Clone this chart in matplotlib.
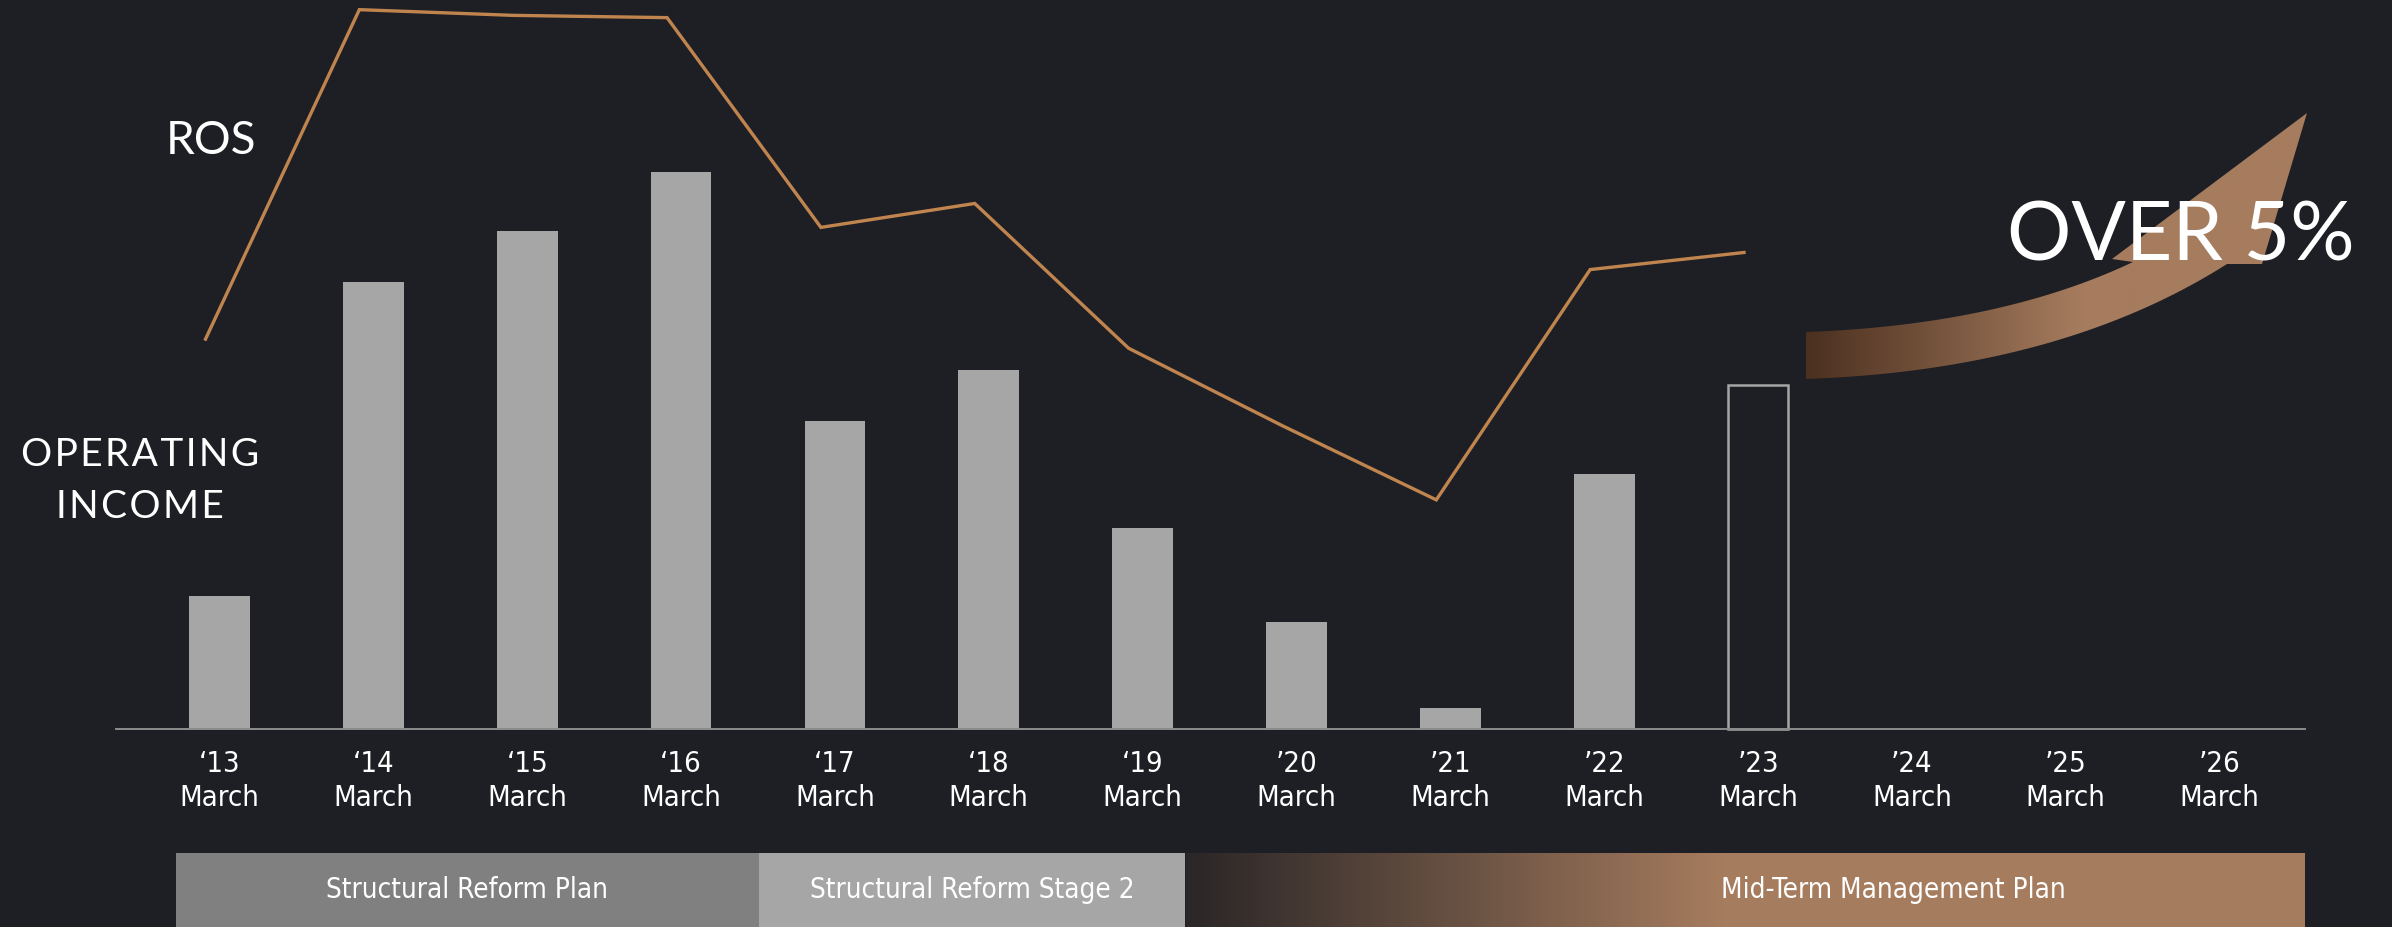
import numpy as np
import matplotlib
matplotlib.use("Agg")
import matplotlib.pyplot as plt
from matplotlib.path import Path
from matplotlib.patches import PathPatch, Rectangle
from matplotlib.colors import LinearSegmentedColormap

# fiscal years (ending March)
years = ["\u201813", "\u201814", "\u201815", "\u201816", "\u201817", "\u201818", "\u201819",
         "\u201920", "\u201921", "\u201922", "\u201923", "\u201924", "\u201925", "\u201926"]
# operating income (relative units), '13 - '22 actual, '23 plan (outlined)
income = [29.6, 99.3, 110.7, 123.8, 68.4, 79.8, 44.7, 23.8, 4.7, 56.7]
income_plan = [76.4]
# ROS (%), '13 - '23
ros = [3.42, 6.31, 6.26, 6.24, 4.40, 4.61, 3.34, 2.66, 2.01, 4.03, 4.18]
phases = ["Structural Reform Plan", "Structural Reform Stage 2", "Mid-Term Management Plan"]

W, H = 2392, 927
BG = "#1e1f24"
BAR = "#a6a6a6"
LINE = "#c0854f"
TAN = "#a67c5e"

fig = plt.figure(figsize=(W / 100, H / 100), dpi=100, facecolor=BG)

# main axes: bars
ax = fig.add_axes([0, 0, 1, 1])
ax.set_axis_off()
x = np.arange(len(years))
ax.bar(x[:len(income)], income, width=0.395, color=BAR, zorder=2)
ax.bar(x[len(income):len(income) + len(income_plan)], income_plan, width=0.39,
       fill=False, edgecolor=BAR, linewidth=1.8, zorder=2)
ax.axhline(0, xmin=116 / W, xmax=2305 / W, color="#8c8c8c", linewidth=1.4, zorder=3)
ax.set_xlim(-219.5 / 153.85, (W - 219.5) / 153.85)
ax.set_ylim((729 - H) / 4.5, 729 / 4.5)

for i, yr in enumerate(years):
    ax.text(i, -11.6, yr + "\nMarch", ha="center", va="center", color="white",
            fontsize=21, fontstretch="condensed", linespacing=1.25,
            family=["DejaVu Sans"])

# ROS line on a twin axis
ax2 = ax.twinx()
ax2.set_axis_off()
ax2.plot(x[:len(ros)] - 0.091, ros, color=LINE, linewidth=2.4, solid_joinstyle="miter")
ax2.set_ylim(-198 / 114, 729 / 114)

# overlay in pixel space for decorations
ov = fig.add_axes([0, 0, 1, 1])
ov.set_axis_off()

def tracked(s):
    return "\u200a".join(s)

ov.text(211, 141, "ROS", fontsize=33, color="white", ha="center", va="center",
        family=["Lato", "DejaVu Sans"])
ov.text(140, 455, tracked("OPERATING"), fontsize=28, color="white", ha="center",
        va="center", family=["Lato", "DejaVu Sans"])
ov.text(140, 507, tracked("INCOME"), fontsize=28, color="white", ha="center",
        va="center", family=["Lato", "DejaVu Sans"])

# curved arrow with gradient
def qbez(p0, p1, p2, n=60):
    t = np.linspace(0, 1, n)[:, None]
    p0, p1, p2 = map(np.array, (p0, p1, p2))
    return (1 - t) ** 2 * p0 + 2 * (1 - t) * t * p1 + t ** 2 * p2

upper = qbez((1806, 332), (2000, 325), (2133, 262))
lower = qbez((2227, 264), (2060, 370), (1806, 379))
head = np.array([(2112, 259), (2307, 113), (2262, 264)])
verts = np.vstack([upper, head, lower, upper[:1]])
arrow_patch = PathPatch(Path(verts), facecolor="none", edgecolor="none")
ov.add_patch(arrow_patch)
arrow_cmap = LinearSegmentedColormap.from_list(
    "arr", [(0, "#4b3020"), (0.55, TAN), (1, TAN)])
grad = np.linspace(0, 1, 256)[None, :]
im = ov.imshow(grad, extent=(1806, 2308, 380, 110), cmap=arrow_cmap, aspect="auto")
im.set_clip_path(arrow_patch)

ov.text(2007, 237, "OVER 5%", fontsize=58, color="white", ha="left", va="center",
        family="Lato", zorder=5)

# phase bands
ov.add_patch(Rectangle((176, 853), 583, 74, color="#808080", linewidth=0))
ov.add_patch(Rectangle((759, 853), 426, 74, color="#a6a6a6", linewidth=0))
band_cmap = LinearSegmentedColormap.from_list(
    "band", [(0, "#2a2627"), (0.48, TAN), (1, TAN)])
ov.imshow(grad, extent=(1186, 2305, 927, 853), cmap=band_cmap, aspect="auto")

band_font = dict(fontsize=20, color="white", ha="center", va="center",
                 fontstretch="condensed", family=["DejaVu Sans"])
ov.text(467, 890, phases[0], **band_font)
ov.text(972, 890, phases[1], **band_font)
ov.text(1893, 890, phases[2], **band_font)

ov.set_xlim(0, W)
ov.set_ylim(H, 0)

fig.savefig("out.png", dpi=100, facecolor=BG)
